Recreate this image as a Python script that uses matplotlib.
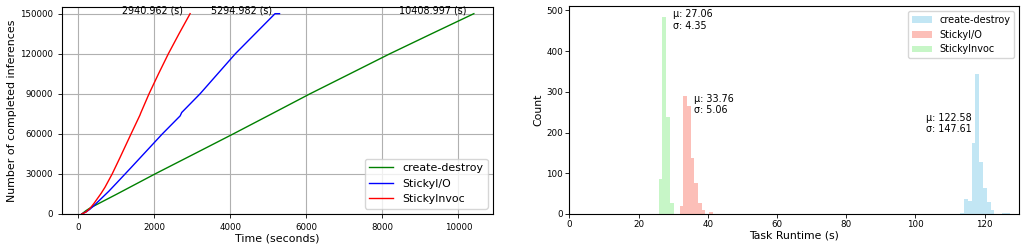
import numpy as np
import matplotlib
matplotlib.use('Agg')
import matplotlib.pyplot as plt

# Completed inferences over time (left plot)
series_names = ['create-destroy', 'StickyI/O', 'StickyInvoc']
line_colors = ['green', 'blue', 'red']

green_time = [90, 200, 308, 1000, 2018, 3050, 4079, 5090, 6097, 7150, 8200, 9300, 10409]
green_done = [0, 2500, 4500, 14700, 30000, 45000, 60000, 75000, 90000, 105000, 120000, 135000, 150000]

blue_time = [90, 200, 300, 400, 600, 800, 1000, 1363, 2211, 2680, 2720,
             3203, 4132, 5176, 5295]
blue_done = [0, 1500, 3500, 6000, 11500, 17000, 23000, 34000, 60000, 73500, 76000,
             90000, 120000, 150000, 150000]

red_time = [90, 200, 300, 400, 500, 600, 700, 890, 1100, 1387, 1620, 1640,
            1860, 2110, 2369, 2650, 2941]
red_done = [0, 1500, 4000, 7500, 11500, 15500, 20000, 30000, 42500, 60000, 74000, 75500,
            90000, 105000, 120000, 135000, 150000]

end_times = [10408.997, 5294.982, 2940.962]

# Task runtime histograms (right plot)
hist_colors = ['skyblue', 'salmon', 'lightgreen']

cd_start, cd_width = 112.9, 1.1
cd_counts = [3, 38, 33, 175, 345, 127, 63, 29, 9, 0, 0, 3, 3]

io_start, io_width = 31.9, 1.06
io_counts = [20, 289, 266, 138, 76, 27, 10, 0, 4]

inv_start, inv_width = 25.8, 1.1
inv_counts = [85, 485, 238, 28]

means = [122.58, 33.76, 27.06]
stds = [147.61, 5.06, 4.35]


def completed_plot(ax):
    ax.plot(green_time, green_done, color=line_colors[0], lw=1, label=series_names[0])
    ax.plot(blue_time, blue_done, color=line_colors[1], lw=1, label=series_names[1])
    ax.plot(red_time, red_done, color=line_colors[2], lw=1, label=series_names[2])
    for t in end_times:
        ax.annotate('%.3f (s)' % t, xy=(t, 150000), xytext=(-5, 2),
                    textcoords='offset points', ha='right', va='center',
                    fontsize=6.9)
    ax.set_xlim(-430, 10915)
    ax.set_ylim(0, 155000)
    ax.set_yticks(np.arange(0, 150001, 30000))
    ax.set_xticks([0, 2000, 4000, 6000, 8000, 10000])
    ax.grid(True, color='#b0b0b0', lw=0.8)
    ax.tick_params(labelsize=6.2, length=3, width=0.6)
    ax.set_xlabel('Time (seconds)', fontsize=7.9, labelpad=1)
    ax.set_ylabel('Number of completed inferences', fontsize=7.9, labelpad=2)
    ax.legend(loc='lower right', fontsize=7.9, handlelength=2.2)


def runtime_hist(ax):
    groups = [(cd_start, cd_width, cd_counts),
              (io_start, io_width, io_counts),
              (inv_start, inv_width, inv_counts)]
    for (start, width, counts), color, name in zip(groups, hist_colors, series_names):
        lefts = start + width * np.arange(len(counts))
        ax.bar(lefts, counts, width=width, align='edge', color=color,
               alpha=0.5, label=name)
    # mean / std labels
    ax.text(30.0, 503, 'μ: %.2f\nσ: %.2f' % (means[2], stds[2]), va='top', fontsize=6.9)
    ax.text(36.1, 296, 'μ: %.2f\nσ: %.2f' % (means[1], stds[1]), va='top', fontsize=6.9)
    ax.text(116.3, 249, 'μ: %.2f\nσ: %.2f' % (means[0], stds[0]), va='top', ha='right',
            fontsize=6.9)
    ax.set_xlim(0, 130)
    ax.set_ylim(0, 511)
    ax.tick_params(labelsize=6.3, length=3, width=0.6, pad=1.5)
    ax.set_xlabel('Task Runtime (s)', fontsize=7.8, labelpad=1)
    ax.set_ylabel('Count', fontsize=7.8, labelpad=2)
    ax.legend(loc='upper right', fontsize=7.0)


fig = plt.figure(figsize=(10.27, 2.48), dpi=100)
ax1 = fig.add_axes([0.0604, 0.1371, 0.4197, 0.8347])
ax2 = fig.add_axes([0.5543, 0.1371, 0.4382, 0.8387])
completed_plot(ax1)
runtime_hist(ax2)
fig.savefig('out.png', dpi=100)
